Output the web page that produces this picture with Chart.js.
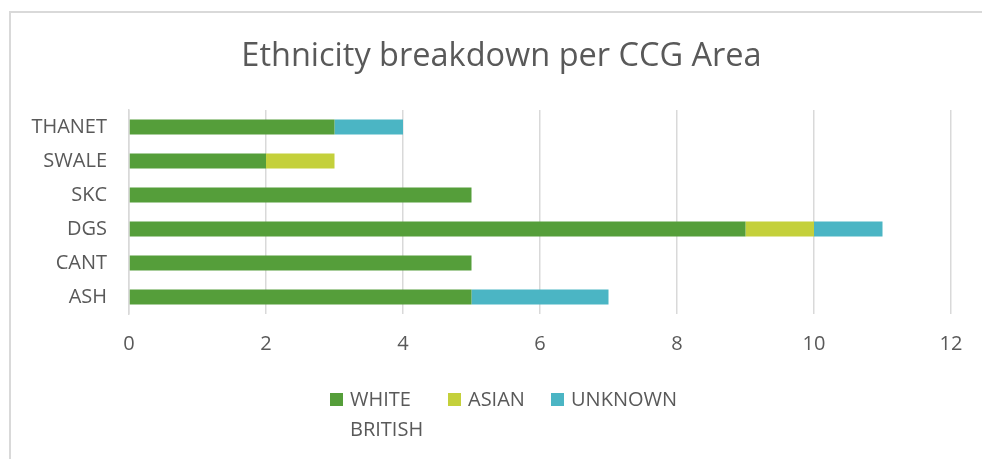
<!DOCTYPE html>
<html>
<head>
<meta charset="utf-8">
<script src="https://cdn.jsdelivr.net/npm/chart.js@4"></script>
<style>
  html, body { margin: 0; padding: 0; background: #fff; }
  #wrap { position: relative; width: 982px; height: 459px; overflow: hidden; font-family: "Open Sans", sans-serif; }
  #frame { position: absolute; left: 9px; top: 11px; width: 1000px; height: 500px; border-left: 2px solid #d9d9d9; border-top: 2px solid #d9d9d9; box-sizing: border-box; }
  canvas { position: absolute; left: 0; top: 0; }
  #legend { position: absolute; top: 384px; left: 330px; display: flex; color: #595959; font-size: 20px; line-height: 30px; }
  .item { display: flex; align-items: flex-start; }
  .box { width: 13px; height: 13px; margin-top: 9px; margin-right: 7px; flex: none; }
</style>
</head>
<body>
<div id="wrap">
  <div id="frame"></div>
  <canvas id="chart" width="982" height="459"></canvas>
  <div id="legend"></div>
</div>
<script>
const areas = ['THANET', 'SWALE', 'SKC', 'DGS', 'CANT', 'ASH'];
const whiteBritish = [3, 2, 5, 9, 5, 5];
const asian = [0, 1, 0, 1, 0, 0];
const unknown = [1, 0, 0, 1, 0, 2];
const seriesNames = ['WHITE BRITISH', 'ASIAN', 'UNKNOWN'];
const seriesColors = ['#559e3a', '#c4d03b', '#4bb5c4'];
const xTicks = [0, 2, 4, 6, 8, 10, 12];

const grey = '#595959';
const legendWidths = [98, 83, 130];

// title in the original sits a bit right of the canvas centre
const titleShift = {
  id: 'titleShift',
  afterLayout(c){
    if(!c.titleBlock) return;
    c.titleBlock.left += 16;
    c.titleBlock.right += 16;
  }
};

const chart = new Chart(document.getElementById('chart'), {
  type: 'bar',
  data: {
    labels: areas,
    datasets: [whiteBritish, asian, unknown].map((d, i) => ({
      label: seriesNames[i],
      data: d,
      backgroundColor: seriesColors[i],
      barPercentage: 1,
      categoryPercentage: 0.44
    }))
  },
  options: {
    indexAxis: 'y',
    responsive: false,
    animation: false,
    layout: { padding: { left: 20, right: 31, top: 37, bottom: 85 } },
    plugins: {
      legend: { display: false },
      tooltip: { enabled: false },
      title: {
        display: true,
        text: 'Ethnicity breakdown per CCG Area',
        color: grey,
        font: { family: 'Open Sans', size: 32.5, weight: 'normal' },
        padding: { top: 0, bottom: 34 }
      }
    },
    scales: {
      x: {
        stacked: true,
        min: 0, max: 12,
        afterBuildTicks: s => { s.ticks = xTicks.map(v => ({ value: v })); },
        afterFit: s => { s.height = 60; },
        grid: { color: '#d9d9d9', lineWidth: 1.5, drawTicks: false },
        border: { display: false },
        ticks: { color: grey, font: { family: 'Open Sans', size: 20 }, padding: 18 }
      },
      y: {
        stacked: true,
        afterFit: s => { s.width = 109; },
        grid: { display: false, drawTicks: false },
        border: { display: true, color: '#d9d9d9', width: 1.5 },
        ticks: { color: grey, font: { family: 'Open Sans', size: 20 }, padding: 22 }
      }
    }
  },
  plugins: [titleShift]
});

const legend = document.getElementById('legend');
seriesNames.forEach((name, i) => {
  const item = document.createElement('div');
  item.className = 'item';
  const box = document.createElement('div');
  box.className = 'box';
  box.style.background = seriesColors[i];
  const txt = document.createElement('div');
  txt.style.width = legendWidths[i] + 'px';
  txt.textContent = name;
  item.appendChild(box);
  item.appendChild(txt);
  legend.appendChild(item);
});
</script>
</body>
</html>
